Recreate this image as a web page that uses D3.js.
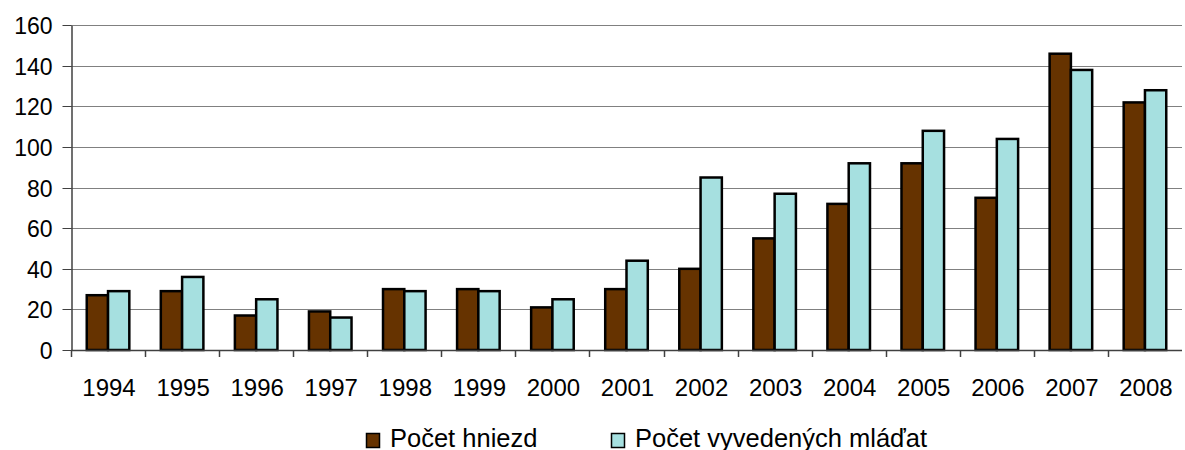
<!DOCTYPE html>
<html><head><meta charset="utf-8">
<script src="https://cdn.jsdelivr.net/npm/d3@7"></script>
<style>body{margin:0;background:#fff}svg{display:block}text{font-family:"Liberation Sans",Arial,sans-serif;fill:#000}</style>
</head><body><svg id="c" width="1185" height="450"></svg>
<script>
const years = ["1994","1995","1996","1997","1998","1999","2000","2001","2002","2003","2004","2005","2006","2007","2008"];
const seriesNames = ["Počet hniezd","Počet vyvedených mláďat"];
const nests = [27,29,17,19,30,30,21,30,40,55,72,92,75,146,122];
const young = [29,36,25,16,29,29,25,44,85,77,92,108,104,138,128];
const yTicks = [0,20,40,60,80,100,120,140,160];
const colors = ["#663300","#A6E0E0"];

const svg = d3.select("#c");
const L = 71, R = 1182, T = 25.3, B = 350;
const x = d3.scaleBand().domain(years).range([L, R]).padding(0);
const x1 = d3.scaleBand().domain(seriesNames).range([0, x.bandwidth()]).paddingInner(0).paddingOuter(0.74);
const y = d3.scaleLinear().domain([0,160]).range([B, T]);

// grid
svg.append("g").selectAll("line").data(yTicks.filter(d=>d>0)).join("line")
  .attr("x1", L).attr("x2", R).attr("y1", d=>Math.round(y(d))+0.5).attr("y2", d=>Math.round(y(d))+0.5)
  .attr("stroke","#808080").attr("stroke-width",1);

// y axis
const ya = svg.append("g").attr("transform",`translate(${L+0.5},0)`)
  .call(d3.axisLeft(y).tickValues(yTicks).tickSize(9).tickPadding(10).tickSizeOuter(0));
ya.select(".domain").attr("stroke","#404040").attr("stroke-width",1.5);
ya.selectAll(".tick line").attr("stroke","#404040");
ya.selectAll(".tick").attr("transform", d=>`translate(0,${Math.round(y(d))+0.5})`);
ya.selectAll("text").style("font-size","23px").attr("dy","0.36em");

// bars
const data = years.map((yr,i)=>({yr, vals:[nests[i], young[i]]}));
const g = svg.append("g").selectAll("g").data(data).join("g")
  .attr("transform", d=>`translate(${x(d.yr)},0)`);
g.selectAll("rect").data(d=>d.vals.map((v,j)=>({s:seriesNames[j], v, j}))).join("rect")
  .attr("x", d=>x1(d.s)).attr("width", x1.bandwidth())
  .attr("y", d=>y(d.v)).attr("height", d=>B - y(d.v))
  .attr("fill", d=>colors[d.j]).attr("stroke","#000").attr("stroke-width",2.5);

// x axis
svg.append("line").attr("x1",L).attr("x2",R).attr("y1",B+0.5).attr("y2",B+0.5)
  .attr("stroke","#404040").attr("stroke-width",1.5);
const bounds = years.map(yr=>x(yr));
svg.append("g").selectAll("line").data(bounds).join("line")
  .attr("x1", d=>Math.round(d)+0.5).attr("x2", d=>Math.round(d)+0.5)
  .attr("y1", B).attr("y2", B+7).attr("stroke","#404040").attr("stroke-width",1.5);
svg.append("g").selectAll("text").data(years).join("text")
  .attr("x", d=>x(d)+x.bandwidth()/2+1).attr("y", 396)
  .attr("text-anchor","middle").style("font-size","24px").text(d=>d);

// legend
const legX = [366, 611];
const lg = svg.append("g").selectAll("g").data(seriesNames).join("g")
  .attr("transform", (d,i)=>`translate(${legX[i]},0)`);
lg.append("rect").attr("x",0.5).attr("y",433.5).attr("width",13).attr("height",14)
  .attr("fill",(d,i)=>colors[i]).attr("stroke","#000").attr("stroke-width",1.5);
lg.append("text").attr("x",24).attr("y",446.5).style("font-size","25.5px").text(d=>d);
</script></body></html>
